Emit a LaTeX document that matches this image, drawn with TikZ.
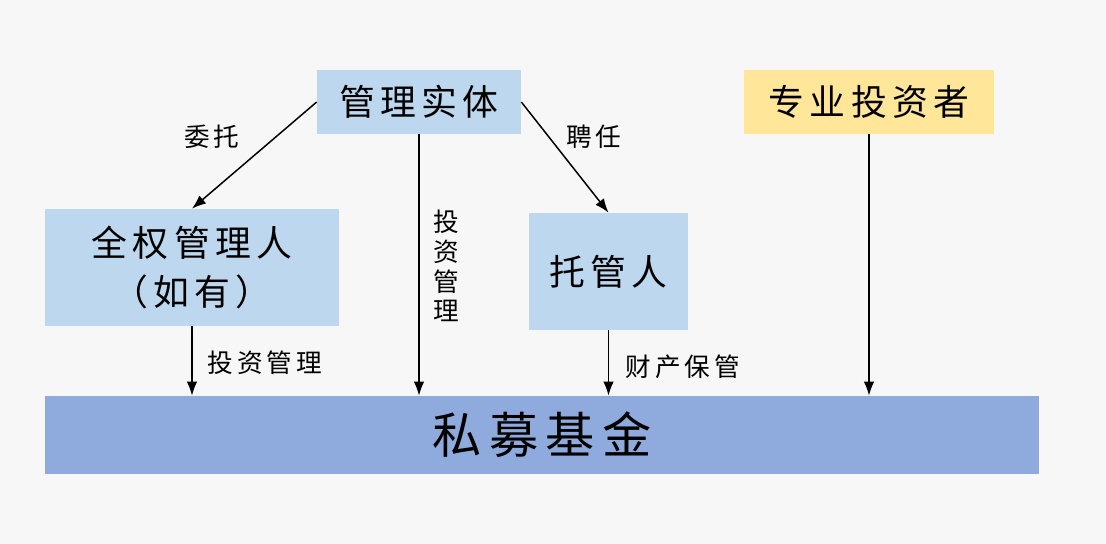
\documentclass[tikz,border=0pt]{standalone}
\usepackage{fontspec}
\newfontfamily\cjk[LetterSpace=15]{Noto Sans CJK SC}
\usetikzlibrary{arrows.meta}
\definecolor{bgGray}{HTML}{F7F7F7}
\definecolor{boxBlue}{HTML}{BDD7EE}
\definecolor{boxYellow}{HTML}{FFE699}
\definecolor{fundBlue}{HTML}{8FAADC}
\tikzset{
    box/.style={fill=boxBlue, inner sep=0pt, align=center,
        font=\fontsize{20.4}{28}\selectfont\cjk},
    flow/.style={-{Latex[length=8pt, width=6pt]}, line width=0.85pt},
    lbl/.style={inner sep=0pt, align=center,
        font=\fontsize{14.6}{17}\selectfont\cjk},
}
\begin{document}
\begin{tikzpicture}[x=0.02cm, y=-0.02cm]
    % Background
    \fill[bgGray] (0,0) rectangle (1106,544);
    \useasboundingbox (0,0) rectangle (1106,544);

    % Boxes
    \node[box, minimum width=4.08cm, minimum height=1.28cm] (entity) at (419,102) {管理实体};
    \node[box, fill=boxYellow, minimum width=5cm, minimum height=1.28cm] (investor) at (869,102) {专业投资者};
    \node[box, minimum width=5.88cm, minimum height=2.34cm] (manager) at (192,267.5) {全权管理人\\（如有）};
    \node[box, minimum width=3.18cm, minimum height=2.34cm] (custodian) at (608.5,271.5) {托管人};
    \node[box, fill=fundBlue, minimum width=19.88cm, minimum height=1.56cm,
        font=\fontsize{28}{32}\selectfont\cjk] (fund) at (542,435) {私募基金};

    % Connectors
    \draw[flow] (entity.west) -- (manager.north);
    \draw[flow] (entity.east) -- (custodian.north);
    \draw[flow] (entity.south) -- (entity.south |- fund.north);
    \draw[flow] (manager.south) -- (manager.south |- fund.north);
    \draw[flow] (custodian.south) -- (custodian.south |- fund.north);
    \draw[flow] (investor.south) -- (investor.south |- fund.north);

    % Labels
    \node[lbl] (entrust) at (212,137) {委托};
    \node[lbl] (appoint) at (594,137) {聘任};
    \node[lbl] (invest) at (446,266) {投\\资\\管\\理};
    \node[lbl] (investB) at (265,363) {投资管理};
    \node[lbl] (keep) at (683,367) {财产保管};
\end{tikzpicture}
\end{document}
